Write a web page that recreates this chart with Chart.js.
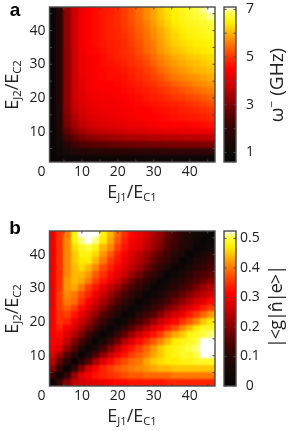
<!DOCTYPE html>
<html><head><meta charset="utf-8">
<script src="https://cdn.jsdelivr.net/npm/chart.js@4"></script>
<style>
html,body{margin:0;padding:0;background:#fff;overflow:hidden}
#page{position:relative;width:290px;height:431px;font-family:"Open Sans",sans-serif;color:#222}
canvas{position:absolute}
.clip{position:absolute;left:50px;width:165px;height:155px;overflow:hidden}
.clip canvas{left:-50px;top:-7px;filter:blur(1.2px)}
.t{position:absolute;white-space:nowrap;line-height:1;transform:translate(-50%,-50%)}
.r{transform:translate(-50%,-50%) rotate(-90deg)}
.t sub{font-size:.62em;vertical-align:-.28em;line-height:0}
.t sup{font-size:.62em;vertical-align:.55em;line-height:0}
.p{font-weight:700;font-size:19px;color:#000;font-family:"Liberation Sans",sans-serif}
.a{font-size:18px}
</style></head><body>
<div id="page">
<div class="clip" style="top:7px"><canvas id="heatA" width="222" height="200"></canvas></div>
<canvas id="axesA" width="222" height="200" style="left:0;top:0"></canvas>
<canvas id="barA" width="72" height="200" style="left:218px;top:0"></canvas>
<div class="clip" style="top:231px"><canvas id="heatB" width="222" height="200"></canvas></div>
<canvas id="axesB" width="222" height="200" style="left:0;top:224px"></canvas>
<canvas id="barB" width="72" height="200" style="left:218px;top:224px"></canvas>
<div class="t p" style="left:15px;top:9px">a</div>
<div class="t p" style="left:15px;top:227px">b</div>
<div class="t a" style="left:132px;top:191px">E<sub>J1</sub>/E<sub>C1</sub></div>
<div class="t a r" style="left:11px;top:85px">E<sub>J2</sub>/E<sub>C2</sub></div>
<div class="t a" style="left:132px;top:415px">E<sub>J1</sub>/E<sub>C1</sub></div>
<div class="t a r" style="left:11px;top:309px">E<sub>J2</sub>/E<sub>C2</sub></div>
<div class="t a r" style="left:276px;top:85px;font-size:19px">ω<sup>−</sup> (GHz)</div>
<div class="t a r" style="left:275px;top:307px;letter-spacing:-1px">|&lt;g|n̂|e&gt;|</div>
</div>
<script>
const xCenters=[2,4,6,8,10,12,14,16,18,20,22,24,26,28,30,32,34,36,38,40,42,44,46];
const yCenters=[46,44,42,40,38,36,34,32,30,28,26,24,22,20,18,16,14,12,10,8,6,4,2];
const axisTicks=[5,10,15,20,25,30,35,40,45];
const xZeroTick=-1.2;
const omegaRows=[
[.8,1.7,3.2,3.85,4.3,4.5,4.6,4.7,4.8,4.9,5.05,5.25,5.45,5.7,5.9,6.15,6.35,6.5,6.6,6.7,6.8,6.95,7.1],
[.8,1.7,3.2,3.85,4.3,4.5,4.6,4.7,4.8,4.9,5.05,5.25,5.45,5.7,5.9,6.15,6.32,6.47,6.57,6.66,6.75,6.85,6.95],
[.8,1.7,3.2,3.85,4.3,4.5,4.6,4.7,4.8,4.9,5.05,5.2,5.4,5.6,5.85,6.05,6.25,6.42,6.52,6.6,6.65,6.72,6.78],
[.8,1.7,3.2,3.85,4.3,4.5,4.6,4.7,4.8,4.85,5.0,5.15,5.35,5.55,5.75,5.95,6.15,6.32,6.45,6.53,6.58,6.63,6.68],
[.8,1.7,3.2,3.85,4.3,4.5,4.6,4.7,4.8,4.85,4.95,5.1,5.3,5.5,5.7,5.9,6.1,6.25,6.38,6.47,6.52,6.56,6.6],
[.8,1.7,3.2,3.85,4.3,4.5,4.6,4.7,4.75,4.8,4.9,5.05,5.25,5.45,5.6,5.85,6.05,6.2,6.3,6.38,6.44,6.48,6.52],
[.8,1.7,3.2,3.85,4.3,4.45,4.55,4.65,4.75,4.8,4.9,5.0,5.2,5.4,5.55,5.8,5.95,6.1,6.2,6.3,6.35,6.4,6.45],
[.8,1.7,3.2,3.85,4.25,4.4,4.5,4.6,4.7,4.8,4.85,4.95,5.1,5.25,5.45,5.65,5.8,5.95,6.05,6.15,6.2,6.27,6.32],
[.8,1.7,3.2,3.85,4.25,4.4,4.5,4.6,4.65,4.7,4.8,4.9,5.0,5.15,5.35,5.55,5.7,5.85,5.95,6.05,6.1,6.18,6.22],
[.8,1.7,3.2,3.85,4.25,4.4,4.5,4.55,4.6,4.65,4.7,4.8,4.9,5.05,5.2,5.4,5.55,5.7,5.8,5.9,6.0,6.05,6.1],
[.8,1.7,3.2,3.85,4.2,4.35,4.45,4.55,4.6,4.6,4.65,4.75,4.85,4.95,5.1,5.25,5.4,5.55,5.65,5.75,5.8,5.88,5.95],
[.8,1.7,3.2,3.85,4.2,4.35,4.45,4.5,4.5,4.55,4.6,4.7,4.75,4.85,4.95,5.1,5.2,5.35,5.45,5.55,5.65,5.72,5.8],
[.8,1.7,3.2,3.85,4.15,4.3,4.4,4.45,4.45,4.5,4.55,4.6,4.7,4.75,4.85,4.95,5.05,5.15,5.25,5.35,5.45,5.52,5.6],
[.8,1.7,3.2,3.85,4.1,4.25,4.35,4.4,4.4,4.45,4.5,4.55,4.6,4.7,4.75,4.8,4.9,5.0,5.05,5.15,5.2,5.3,5.4],
[.8,1.7,3.2,3.8,4.05,4.2,4.3,4.35,4.35,4.4,4.45,4.5,4.55,4.6,4.65,4.7,4.75,4.8,4.85,4.95,5.0,5.1,5.2],
[.8,1.7,3.15,3.7,3.95,4.15,4.25,4.3,4.3,4.35,4.4,4.45,4.5,4.5,4.55,4.6,4.65,4.7,4.75,4.8,4.85,4.9,5.0],
[.8,1.7,3.05,3.55,3.85,4.0,4.15,4.2,4.25,4.3,4.35,4.4,4.45,4.5,4.5,4.55,4.6,4.65,4.7,4.7,4.75,4.8,4.85],
[.8,1.65,2.95,3.4,3.7,3.85,3.95,4.05,4.1,4.15,4.2,4.25,4.3,4.35,4.4,4.45,4.45,4.5,4.5,4.55,4.55,4.6,4.65],
[.8,1.55,2.7,3.15,3.4,3.6,3.7,3.8,3.85,3.9,3.95,4.0,4.05,4.1,4.15,4.15,4.2,4.2,4.25,4.25,4.3,4.3,4.35],
[.8,1.4,2.3,2.7,2.95,3.1,3.2,3.3,3.35,3.4,3.45,3.5,3.5,3.55,3.6,3.6,3.65,3.65,3.65,3.7,3.7,3.7,3.75],
[.8,1.2,1.8,2.2,2.4,2.5,2.6,2.65,2.7,2.75,2.8,2.8,2.85,2.85,2.9,2.9,2.9,2.95,2.95,2.95,3.0,3.0,3.0],
[.8,1.05,1.35,1.55,1.65,1.7,1.75,1.8,1.8,1.85,1.85,1.85,1.9,1.9,1.9,1.95,1.95,1.95,1.95,1.95,1.95,1.95,1.95],
[.7,.8,.85,.9,.9,.95,.95,.95,1.0,1.0,1.0,1.0,1.0,1.0,1.0,1.0,1.0,1.0,1.0,1.0,1.0,1.0,1.0]
];
const matrixRows=[
[.30,.35,.40,.48,.53,.54,.53,.48,.44,.39,.35,.32,.30,.27,.24,.21,.17,.13,.10,.07,.05,.03,.01],
[.30,.35,.41,.48,.51,.53,.51,.47,.43,.38,.34,.31,.29,.26,.23,.20,.16,.13,.09,.07,.04,.01,.03],
[.30,.35,.41,.46,.49,.50,.48,.44,.41,.36,.33,.30,.28,.25,.22,.19,.15,.12,.08,.06,.01,.03,.05],
[.30,.35,.41,.45,.48,.48,.46,.42,.38,.34,.31,.28,.25,.22,.19,.16,.13,.09,.06,.01,.03,.07,.09],
[.30,.35,.41,.45,.47,.47,.44,.40,.36,.33,.30,.27,.24,.21,.17,.14,.11,.07,.01,.03,.07,.09,.12],
[.30,.35,.41,.44,.46,.44,.41,.37,.34,.31,.28,.25,.22,.18,.14,.11,.07,.01,.03,.07,.09,.12,.14],
[.30,.35,.41,.44,.44,.42,.38,.35,.32,.29,.26,.22,.18,.14,.11,.07,.01,.03,.07,.10,.13,.15,.17],
[.30,.35,.42,.44,.43,.40,.36,.33,.30,.26,.22,.18,.14,.11,.07,.01,.03,.07,.10,.13,.15,.18,.20],
[.30,.35,.42,.43,.40,.36,.33,.29,.25,.22,.18,.14,.11,.07,.01,.03,.07,.10,.13,.16,.19,.22,.24],
[.30,.36,.41,.40,.37,.34,.30,.26,.22,.18,.14,.11,.07,.01,.03,.07,.11,.14,.17,.20,.23,.25,.27],
[.30,.36,.40,.39,.35,.31,.27,.23,.19,.15,.11,.07,.01,.03,.08,.11,.14,.18,.21,.24,.27,.29,.32],
[.31,.36,.38,.36,.32,.28,.24,.20,.15,.11,.07,.01,.04,.08,.12,.15,.19,.22,.25,.28,.31,.34,.36],
[.31,.35,.36,.33,.29,.25,.21,.16,.12,.07,.01,.04,.09,.13,.16,.20,.24,.27,.30,.33,.36,.39,.42],
[.31,.35,.34,.30,.26,.22,.17,.12,.07,.01,.04,.10,.14,.18,.22,.26,.29,.32,.35,.38,.41,.45,.47],
[.31,.34,.31,.27,.23,.18,.13,.07,.01,.05,.11,.16,.20,.24,.28,.31,.34,.37,.41,.44,.47,.49,.49],
[.31,.32,.28,.24,.19,.13,.07,.01,.05,.12,.17,.22,.26,.30,.33,.36,.40,.43,.45,.48,.49,.50,.51],
[.31,.30,.25,.19,.14,.08,.01,.06,.13,.18,.24,.28,.32,.35,.38,.41,.44,.47,.48,.49,.50,.53,.54],
[.30,.28,.21,.15,.08,.01,.07,.14,.20,.25,.30,.33,.36,.39,.42,.45,.47,.48,.49,.50,.51,.54,.54],
[.28,.22,.15,.09,.01,.08,.15,.21,.26,.30,.33,.36,.38,.40,.43,.45,.47,.48,.49,.49,.50,.53,.54],
[.25,.17,.10,.01,.09,.16,.23,.28,.32,.35,.37,.39,.40,.43,.45,.46,.47,.47,.48,.48,.49,.49,.49],
[.20,.11,.01,.11,.20,.27,.31,.34,.36,.38,.39,.40,.41,.42,.43,.44,.44,.45,.45,.45,.45,.45,.45],
[.12,.01,.12,.22,.28,.31,.33,.34,.35,.36,.37,.38,.38,.39,.39,.39,.39,.40,.40,.40,.40,.40,.40],
[.01,.12,.20,.25,.27,.28,.29,.30,.31,.32,.32,.33,.33,.33,.33,.33,.34,.34,.34,.34,.34,.34,.34]
];
const omegaRange=[0.6,7.1];
const matrixRange=[0,0.525];
const omegaTicks=[1,2,3,4,5,6,7];
const omegaLabels=[1,3,5,7];
const matrixTicks=[0,0.1,0.2,0.3,0.4,0.5];
const cmapStops=[[0,8,4,4],[.1,20,8,8],[.2,45,5,5],[.3,85,0,0],[.4,145,0,0],[.5,205,0,0],[.6,255,0,0],[.7,255,70,0],[.8,255,150,0],[.9,255,240,0],[.96,255,255,70],[1,255,255,255]];

const FONT={family:'"Open Sans",sans-serif',size:14};
const FRAME='#4a4a4a';
function noPad(s){s.paddingTop=0;s.paddingBottom=0;s.paddingLeft=0;s.paddingRight=0;}
function cmap(f){
  f=Math.max(0,Math.min(1,f));
  for(let i=1;i<cmapStops.length;i++){
    const a=cmapStops[i-1],b=cmapStops[i];
    if(f<=b[0]){const t=(f-a[0])/(b[0]-a[0]);
      return 'rgb('+[1,2,3].map(k=>Math.round(a[k]+(b[k]-a[k])*t)).join(',')+')';}
  }
  return 'rgb(255,255,255)';
}
const swatches={};
function swatch(c,n){
  const key=c+n;
  if(!swatches[key]){const s=document.createElement('canvas');s.width=n;s.height=n;
    const g=s.getContext('2d');g.fillStyle=c;g.fillRect(0,0,n,n);swatches[key]=s;}
  return swatches[key];
}
const framePlugin={id:'frame',afterDraw(chart){
  const a=chart.chartArea,c=chart.ctx,xs=chart.scales.x,ys=chart.scales.y;
  c.save();c.strokeStyle=FRAME;c.lineWidth=1.4;
  c.strokeRect(a.left,a.top,a.right-a.left,a.bottom-a.top);
  c.lineWidth=1;c.beginPath();
  if(xs.type==='linear')xs.ticks.forEach(t=>{if(t.value<xs.min||t.value>xs.max)return;const p=xs.getPixelForValue(t.value);
    c.moveTo(p,a.bottom);c.lineTo(p,a.bottom-2.5);c.moveTo(p,a.top);c.lineTo(p,a.top+2.5);});
  ys.ticks.forEach(t=>{if(t.value<ys.min||t.value>ys.max)return;const p=ys.getPixelForValue(t.value);
    c.moveTo(a.left,p);c.lineTo(a.left+2.5,p);c.moveTo(a.right,p);c.lineTo(a.right-2.5,p);});
  c.stroke();c.restore();
}};
const lab=v=>(v===xZeroTick?'0':(v%10===0?String(v):''));
function axisOptions(showLabels){
  return {responsive:false,animation:false,devicePixelRatio:1,events:[],
    layout:{padding:{left:0,right:7,top:7,bottom:0}},
    plugins:{legend:{display:false},tooltip:{enabled:false}},
    scales:{
      x:{type:'linear',min:1,max:47,position:'bottom',border:{display:false},grid:{display:false,drawTicks:false},
        afterBuildTicks:s=>{s.ticks=[xZeroTick].concat(axisTicks).map(value=>({value}));},
        afterFit:s=>{s.height=38;noPad(s);},
        ticks:{display:showLabels,autoSkip:false,maxRotation:0,padding:2,color:'#222',font:FONT,callback:lab}},
      y:{type:'linear',min:1,max:47,position:'left',border:{display:false},grid:{display:false,drawTicks:false},
        afterBuildTicks:s=>{s.ticks=axisTicks.map(value=>({value}));},
        afterFit:s=>{s.width=49.5;noPad(s);},
        ticks:{display:showLabels,autoSkip:false,padding:4,color:'#222',font:FONT,callback:lab}}
    }};
}
function heat(id,rows,range){
  const pts=[];
  rows.forEach((r,j)=>r.forEach((v,i)=>pts.push({x:xCenters[i],y:yCenters[j],v})));
  const edge=pts.filter(p=>p.x===xCenters[0]||p.x===xCenters[xCenters.length-1]||p.y===yCenters[0]||p.y===yCenters[yCenters.length-1]);
  const col=ctx=>cmap((ctx.raw.v-range[0])/(range[1]-range[0]));
  new Chart(document.getElementById(id),{
    type:'scatter',
    data:{datasets:[
      {data:pts,clip:false,pointRadius:4,pointHoverRadius:4,borderWidth:0,pointStyle:ctx=>swatch(col(ctx),8)},
      {data:edge,clip:false,pointRadius:4,pointHoverRadius:4,borderWidth:0,pointStyle:ctx=>swatch(col(ctx),24)}
    ]},
    options:axisOptions(false)
  });
}
function axes(id){
  new Chart(document.getElementById(id),{
    type:'scatter',data:{datasets:[{data:[]}]},plugins:[framePlugin],options:axisOptions(true)});
}
function bar(id,range,tickVals,labelVals,pad,fmt){
  new Chart(document.getElementById(id),{
    type:'bar',
    data:{labels:[''],datasets:[{data:[[range[0],range[1]]],barPercentage:1,categoryPercentage:1,borderWidth:0,
      backgroundColor:ctx=>{const a=ctx.chart.chartArea;if(!a)return '#000';
        const g=ctx.chart.ctx.createLinearGradient(0,a.bottom,0,a.top);
        cmapStops.forEach(s=>g.addColorStop(s[0],'rgb('+s[1]+','+s[2]+','+s[3]+')'));return g;}}]},
    plugins:[framePlugin],
    options:{responsive:false,animation:false,devicePixelRatio:1,events:[],
      layout:{padding:{left:6,right:28,top:7,bottom:38}},
      plugins:{legend:{display:false},tooltip:{enabled:false}},
      scales:{
        x:{display:false},
        y:{type:'linear',position:'right',min:range[0],max:range[1],border:{display:false},grid:{display:false,drawTicks:false},
          afterBuildTicks:s=>{s.ticks=tickVals.map(value=>({value}));},
          afterFit:s=>{s.width=26;noPad(s);},
          ticks:{autoSkip:false,padding:pad,crossAlign:'center',color:'#222',font:FONT,
            callback:v=>labelVals.includes(v)?fmt(v):''}}
      }}
  });
}
heat('heatA',omegaRows,omegaRange);
heat('heatB',matrixRows,matrixRange);
axes('axesA');axes('axesB');
bar('barA',omegaRange,omegaTicks,omegaLabels,10,v=>String(v));
bar('barB',matrixRange,matrixTicks,matrixTicks,4,v=>String(v));
</script>
</body></html>
